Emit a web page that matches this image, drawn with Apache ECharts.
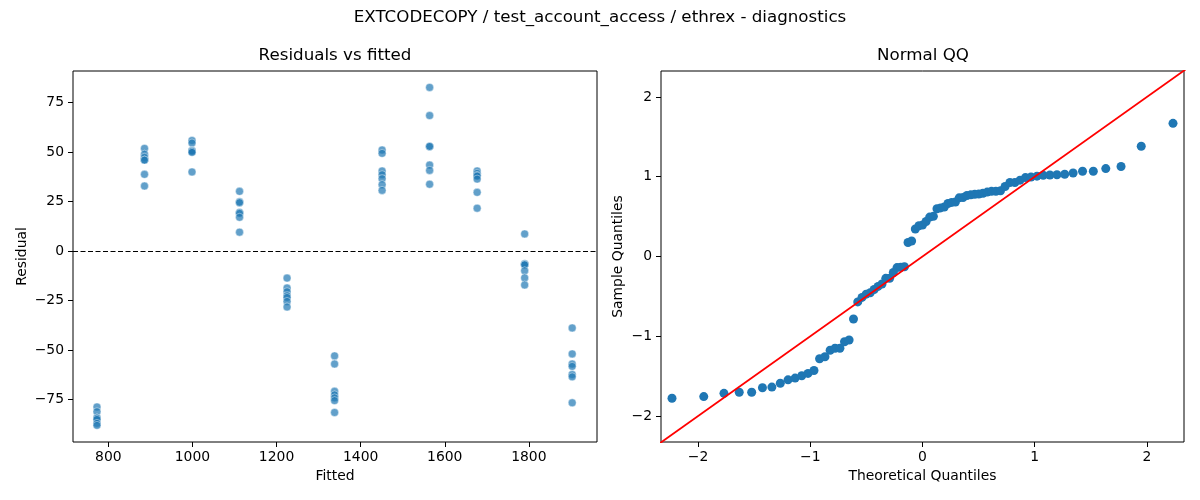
<!DOCTYPE html>
<html>
<head>
<meta charset="utf-8">
<script src="https://cdn.jsdelivr.net/npm/echarts@6/dist/echarts.min.js"></script>
<style>
html, body { margin: 0; padding: 0; background: #fff; }
#chart_panel { width: 1200px; height: 500px; }
</style>
</head>
<body>
<div id="chart_panel"></div>
<script>
// fitted levels (x of each cluster) and 7 residuals per level
var fittedLevels = [773, 886, 999, 1112, 1225, 1338, 1451, 1564, 1677, 1790, 1903];
var residualsByLevel = [
	[-78.7, -81.1, -84.3, -84.3, -85.0, -87.0, -88.0],
	[51.9, 49.0, 47.4, 46.0, 46.0, 38.8, 32.9],
	[55.9, 54.6, 50.8, 50.6, 50.4, 49.9, 40.0],
	[30.2, 24.9, 24.5, 19.5, 19.1, 17.1, 9.6],
	[-13.6, -18.6, -20.5, -22.5, -23.4, -25.4, -28.2],
	[-52.9, -57.0, -70.8, -72.6, -74.1, -75.5, -81.5],
	[51.1, 49.4, 40.5, 38.6, 36.6, 33.6, 30.7],
	[82.7, 68.5, 52.9, 52.9, 43.5, 40.8, 33.8],
	[40.5, 39.3, 38.3, 37.9, 36.4, 29.7, 21.7],
	[8.7, -6.4, -6.7, -6.9, -9.9, -13.5, -17.1],
	[-38.8, -51.9, -57.0, -58.2, -62.3, -63.5, -76.6]
];

// normal QQ points
var qqTheoretical = [
	-2.232, -1.949, -1.769, -1.633, -1.522, -1.426, -1.342, -1.267, -1.198, -1.135,
	-1.076, -1.020, -0.967, -0.917, -0.869, -0.823, -0.779, -0.736, -0.695, -0.654,
	-0.615, -0.577, -0.539, -0.502, -0.466, -0.431, -0.396, -0.361, -0.327, -0.293,
	-0.260, -0.227, -0.194, -0.161, -0.129, -0.097, -0.064, -0.032, 0.000, 0.032,
	0.064, 0.097, 0.129, 0.161, 0.194, 0.227, 0.260, 0.293, 0.327, 0.361,
	0.396, 0.431, 0.466, 0.502, 0.539, 0.577, 0.615, 0.654, 0.695, 0.736,
	0.779, 0.823, 0.869, 0.917, 0.967, 1.020, 1.076, 1.135, 1.198, 1.267,
	1.342, 1.426, 1.522, 1.633, 1.769, 1.949, 2.232
];
var qqSample = [
	-1.776, -1.756, -1.715, -1.701, -1.701, -1.645, -1.637, -1.588, -1.546, -1.524,
	-1.495, -1.465, -1.429, -1.282, -1.257, -1.175, -1.150, -1.150, -1.068, -1.047,
	-0.783, -0.569, -0.513, -0.472, -0.454, -0.414, -0.375, -0.345, -0.274, -0.272,
	-0.200, -0.139, -0.135, -0.129, 0.176, 0.194, 0.345, 0.385, 0.394, 0.438,
	0.494, 0.503, 0.599, 0.609, 0.620, 0.664, 0.678, 0.682, 0.735, 0.739,
	0.765, 0.773, 0.779, 0.783, 0.793, 0.807, 0.817, 0.817, 0.823, 0.878,
	0.928, 0.928, 0.957, 0.989, 0.997, 1.007, 1.017, 1.021, 1.025, 1.031,
	1.047, 1.068, 1.068, 1.102, 1.128, 1.382, 1.669
];
var qqLineEnds = [-3, 3];

// tick labels
var fittedTicks = [800, 1000, 1200, 1400, 1600, 1800];
var residualTicks = [-75, -50, -25, 0, 25, 50, 75];
var qqTicks = [-2, -1, 0, 1, 2];

var FONT = 'DejaVu Sans';
var myChart = echarts.init(document.getElementById('chart_panel'));

function minusLabel(v) {
	return String(v).replace('-', '\u2212');
}

function valueAxis(gridIndex, min, max, ticks, name, nameGap, isY) {
	return {
		type: 'value',
		gridIndex: gridIndex,
		min: min,
		max: max,
		name: name,
		nameLocation: 'middle',
		nameGap: nameGap,
		nameRotate: isY ? 90 : 0,
		nameTextStyle: { fontFamily: FONT, fontSize: 13.9, color: '#000' },
		axisLine: { show: false, onZero: false },
		splitLine: { show: false },
		axisTick: {
			show: true,
			customValues: ticks,
			length: 5,
			lineStyle: { color: '#000', width: 1 }
		},
		axisLabel: {
			customValues: ticks,
			margin: isY ? 9 : 8,
			fontFamily: FONT,
			fontSize: 13.9,
			color: '#000',
			formatter: minusLabel
		}
	};
}

function getResidualPoints() {
	var points = [];
	for (var i = 0; i < fittedLevels.length; i++) {
		for (var j = 0; j < residualsByLevel[i].length; j++) {
			points.push([fittedLevels[i], residualsByLevel[i][j]]);
		}
	}
	return points;
}

function getQQPoints() {
	var points = [];
	for (var i = 0; i < qqTheoretical.length; i++) {
		points.push([qqTheoretical[i], qqSample[i]]);
	}
	return points;
}

function textItem(x, y, text) {
	return {
		type: 'text',
		x: x,
		y: y,
		style: {
			text: text,
			fontFamily: FONT,
			fontSize: 16.7,
			fill: '#000',
			align: 'center',
			verticalAlign: 'middle',
			textAlign: 'center',
			textVerticalAlign: 'middle'
		}
	};
}

var option = {
	animation: false,
	backgroundColor: '#fff',
	graphic: [
		textItem(600, 18, 'EXTCODECOPY / test_account_access / ethrex - diagnostics'),
		textItem(335, 56, 'Residuals vs fitted'),
		textItem(923, 56, 'Normal QQ')
	],
	grid: [
		{ left: 73, top: 71, width: 524, height: 371, show: true, borderColor: '#000', borderWidth: 1, backgroundColor: 'transparent' },
		{ left: 661, top: 71, width: 523, height: 371, show: true, borderColor: '#000', borderWidth: 1, backgroundColor: 'transparent' }
	],
	xAxis: [
		valueAxis(0, 716, 1962, fittedTicks, 'Fitted', 27, false),
		valueAxis(1, -2.33, 2.33, qqTicks, 'Theoretical Quantiles', 27, false)
	],
	yAxis: [
		valueAxis(0, -96.4, 91.0, residualTicks, 'Residual', 44, true),
		valueAxis(1, -2.325, 2.325, qqTicks, 'Sample Quantiles', 36, true)
	],
	series: [
		{
			type: 'scatter',
			xAxisIndex: 0,
			yAxisIndex: 0,
			symbolSize: 8,
			itemStyle: { color: '#1f77b4', opacity: 0.7, borderColor: '#fff', borderWidth: 0.6 },
			data: getResidualPoints(),
			markLine: {
				silent: true,
				symbol: 'none',
				label: { show: false },
				lineStyle: { color: '#000', width: 1.2, type: [5, 2.5] },
				data: [{ yAxis: 0 }]
			}
		},
		{
			type: 'scatter',
			xAxisIndex: 1,
			yAxisIndex: 1,
			symbolSize: 9,
			itemStyle: { color: '#1f77b4', opacity: 1 },
			data: getQQPoints()
		},
		{
			type: 'line',
			xAxisIndex: 1,
			yAxisIndex: 1,
			z: 5,
			symbol: 'none',
			clip: true,
			lineStyle: { color: '#ff0000', width: 1.8 },
			data: [[qqLineEnds[0], qqLineEnds[0]], [qqLineEnds[1], qqLineEnds[1]]]
		}
	]
};

myChart.setOption(option, true);
window.onresize = myChart.resize;
</script>
</body>
</html>
